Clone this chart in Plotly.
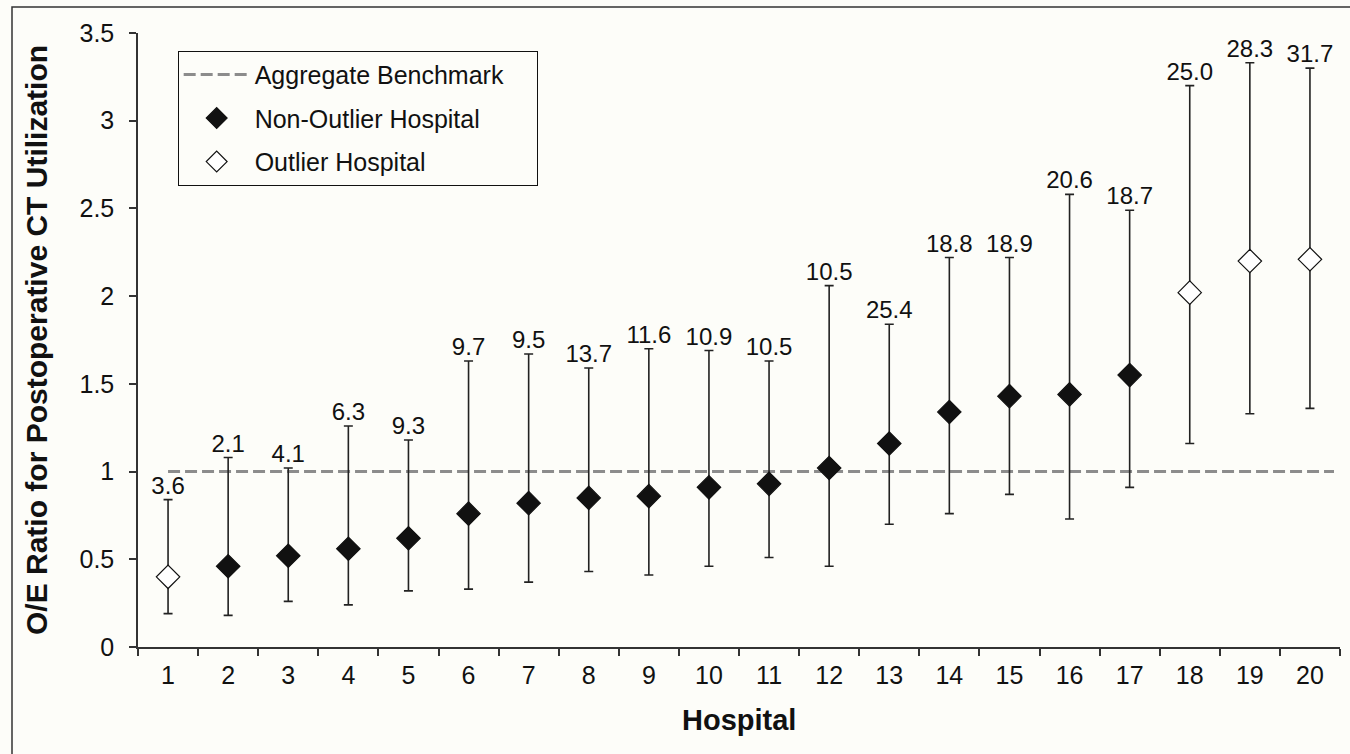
import plotly.graph_objects as go

hospitals = [str(i) for i in range(1, 21)]
oe_ratio = [0.40, 0.46, 0.52, 0.56, 0.62, 0.76, 0.82, 0.85, 0.86, 0.91,
            0.93, 1.02, 1.16, 1.34, 1.43, 1.44, 1.55, 2.02, 2.20, 2.21]
ci_upper = [0.84, 1.08, 1.02, 1.26, 1.18, 1.63, 1.67, 1.59, 1.70, 1.69,
            1.63, 2.06, 1.84, 2.22, 2.22, 2.58, 2.49, 3.20, 3.33, 3.30]
ci_lower = [0.19, 0.18, 0.26, 0.24, 0.32, 0.33, 0.37, 0.43, 0.41, 0.46,
            0.51, 0.46, 0.70, 0.76, 0.87, 0.73, 0.91, 1.16, 1.33, 1.36]
ct_rate_labels = ["3.6", "2.1", "4.1", "6.3", "9.3", "9.7", "9.5", "13.7", "11.6", "10.9",
                  "10.5", "10.5", "25.4", "18.8", "18.9", "20.6", "18.7", "25.0", "28.3", "31.7"]
outlier = [True, False, False, False, False, False, False, False, False, False,
           False, False, False, False, False, False, False, True, True, True]
benchmark = 1.0
y_ticks = [0, 0.5, 1, 1.5, 2, 2.5, 3, 3.5]
y_tick_text = ["0", "0.5", "1", "1.5", "2", "2.5", "3", "3.5"]

FONT = "Liberation Sans, Arial, Helvetica, sans-serif"
BG = "#fdfdf9"
INK = "#111111"
PAD = "\u00a0" * 4

fig = go.Figure()

# legend entry for benchmark (line drawn as shape)
fig.add_trace(go.Scatter(
    x=[None], y=[None], mode="lines", name="Aggregate Benchmark" + PAD,
    legendgroup="a",
    line=dict(color="#8c8c8c", width=3, dash="12px,5px"), showlegend=True))

for flag, name, fill, grp in [(False, "Non-Outlier Hospital", INK, "b"),
                              (True, "Outlier Hospital", "white", "c")]:
    idx = [i for i, o in enumerate(outlier) if o == flag]
    fig.add_trace(go.Scatter(
        x=[hospitals[i] for i in idx],
        y=[oe_ratio[i] for i in idx],
        mode="markers",
        name=name,
        legendgroup=grp,
        marker=dict(symbol="diamond", size=18, color=fill,
                    line=dict(color=INK, width=1.2)),
        error_y=dict(type="data", symmetric=False,
                     array=[ci_upper[i] - oe_ratio[i] for i in idx],
                     arrayminus=[oe_ratio[i] - ci_lower[i] for i in idx],
                     color="#222222", thickness=1.6, width=4.5),
    ))

fig.add_trace(go.Scatter(
    x=hospitals, y=ci_upper, mode="text", text=ct_rate_labels,
    textposition="top center", showlegend=False,
    textfont=dict(family=FONT, size=24, color=INK),
))

fig.add_shape(type="line", xref="x", yref="y", x0=0, x1=19.4,
              y0=benchmark, y1=benchmark,
              line=dict(color="#8c8c8c", width=3, dash="12px,5px"), layer="below")

# outer frame
fig.add_shape(type="rect", xref="paper", yref="paper",
              x0=(12 - 138) / 1202, x1=(1360 - 138) / 1202,
              y0=(647 - 770) / 614, y1=(647 - 7) / 614,
              line=dict(color="#333333", width=1.5), fillcolor="rgba(0,0,0,0)")

fig.add_annotation(text="<b>O/E Ratio for Postoperative CT Utilization</b>",
                   xref="paper", yref="paper", x=(36 - 138) / 1202, y=0.5,
                   xanchor="center", yanchor="middle", textangle=-90,
                   showarrow=False, font=dict(family=FONT, size=30, color=INK))
fig.add_annotation(text="<b>Hospital</b>",
                   xref="paper", yref="paper", x=0.5, y=(647 - 720) / 614,
                   xanchor="center", yanchor="middle",
                   showarrow=False, font=dict(family=FONT, size=29, color=INK))

fig.update_layout(
    width=1350, height=754,
    margin=dict(l=138, r=10, t=33, b=107),
    paper_bgcolor=BG, plot_bgcolor=BG,
    font=dict(family=FONT, size=25, color=INK),
    showlegend=True,
    legend=dict(x=0.033, y=0.971, xanchor="left", yanchor="top",
                bordercolor=INK, borderwidth=1, bgcolor=BG,
                font=dict(size=25, color=INK), itemwidth=66, tracegroupgap=8),
    xaxis=dict(type="category", categoryorder="array", categoryarray=hospitals,
               range=[-0.5, 19.5], tickson="boundaries",
               showline=True, linecolor="#333333", linewidth=1.5,
               ticks="outside", ticklen=7, tickcolor="#333333", tickwidth=1.5,
               showgrid=False, zeroline=False, ticklabelstandoff=5,
               tickfont=dict(size=25, color=INK)),
    yaxis=dict(range=[0, 3.5], tickvals=y_ticks, ticktext=y_tick_text,
               showline=True, linecolor="#333333", linewidth=1.5,
               ticks="outside", ticklen=7, tickcolor="#333333", tickwidth=1.5,
               showgrid=False, zeroline=False, ticklabelstandoff=10,
               tickfont=dict(size=25, color=INK)),
)

fig.write_html("out.html")
